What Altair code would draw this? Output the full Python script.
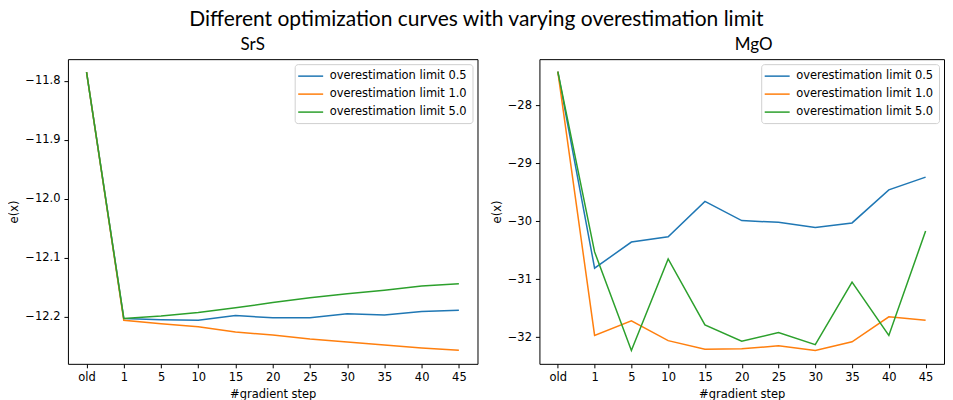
import altair as alt
import pandas as pd

steps = ["old", "1", "5", "10", "15", "20", "25", "30", "35", "40", "45"]
series_names = ["overestimation limit 0.5", "overestimation limit 1.0", "overestimation limit 5.0"]
series_colors = ["#1f77b4", "#ff7f0e", "#2ca02c"]

srs_05 = [-11.785, -12.203, -12.205, -12.206, -12.198, -12.202, -12.202, -12.195, -12.197, -12.191, -12.189]
srs_10 = [-11.785, -12.206, -12.212, -12.217, -12.226, -12.231, -12.238, -12.243, -12.248, -12.253, -12.257]
srs_50 = [-11.785, -12.203, -12.199, -12.193, -12.185, -12.176, -12.168, -12.161, -12.155, -12.148, -12.144]

mgo_05 = [-27.42, -30.81, -30.36, -30.27, -29.66, -29.99, -30.02, -30.11, -30.03, -29.46, -29.24]
mgo_10 = [-27.42, -31.97, -31.72, -32.06, -32.21, -32.20, -32.15, -32.23, -32.08, -31.65, -31.71]
mgo_50 = [-27.42, -30.53, -32.23, -30.65, -31.79, -32.07, -31.92, -32.13, -31.05, -31.97, -30.17]

srs_ticks = [-11.8, -11.9, -12.0, -12.1, -12.2]
mgo_ticks = [-28, -29, -30, -31, -32]


def long_df(series_list):
    rows = []
    for name, vals in zip(series_names, series_list):
        for s, v in zip(steps, vals):
            rows.append({"step": s, "value": v, "series": name})
    return pd.DataFrame(rows)


def panel(df, title, dx, domain, ticks, fmt, width):
    return alt.Chart(df, title=alt.TitleParams(title, dx=dx)).mark_line(strokeWidth=1.5).encode(
        x=alt.X("step:O", sort=steps, title="#gradient step",
                scale=alt.Scale(type="point", padding=0.5),
                axis=alt.Axis(labelAngle=0)),
        y=alt.Y("value:Q", title="e(x)",
                scale=alt.Scale(domain=domain, nice=False, zero=False),
                axis=alt.Axis(values=ticks, format=fmt)),
        color=alt.Color("series:N",
                        scale=alt.Scale(domain=series_names, range=series_colors),
                        legend=alt.Legend(title=None, orient="top-right", offset=5)),
    ).properties(width=width, height=305)


left = panel(long_df([srs_05, srs_10, srs_50]), "SrS", -20, [-12.28, -11.763], srs_ticks, ".1f", 410)
right = panel(long_df([mgo_05, mgo_10, mgo_50]), "MgO", 12, [-32.46, -27.206], mgo_ticks, "d", 405)

chart = alt.hconcat(left, right, spacing=12).resolve_scale(
    color="independent", y="independent"
).resolve_legend(
    color="independent"
).properties(
    title=alt.TitleParams("Different optimization curves with varying overestimation limit",
                          font="Lato", fontSize=21, fontWeight="normal", anchor="middle", color="black", offset=6),
    padding={"left": 0, "top": 0, "right": 0, "bottom": 0},
).configure_view(
    stroke="black", strokeWidth=1
).configure_axis(
    domain=False, grid=False, tickColor="black", tickSize=4, labelColor="black",
    labelFont="DejaVu Sans", labelFontSize=11.5, labelPadding=4,
    titleFont="DejaVu Sans", titleFontSize=11.5, titleFontWeight="normal", titleColor="black",
    titlePadding=5,
).configure_title(
    font="Lato", fontSize=17, fontWeight="normal", color="black", offset=5
).configure_legend(
    strokeColor="#d0d0d0", fillColor="white", padding=5, cornerRadius=3,
    symbolType="M-2,0H2", symbolSize=156, symbolStrokeWidth=1.5, symbolOffset=4,
    labelFont="DejaVu Sans", labelFontSize=11.5, labelColor="black", labelOffset=12,
    rowPadding=5,
)

chart.save("out.html", embed_options={"renderer": "svg", "actions": False})
